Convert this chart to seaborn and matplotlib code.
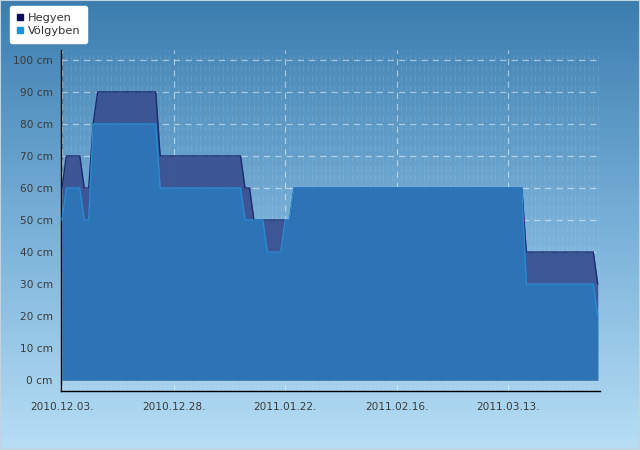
import numpy as np
import pandas as pd
import matplotlib
matplotlib.use("Agg")
import matplotlib.pyplot as plt
import matplotlib.dates as mdates
from matplotlib.lines import Line2D
from matplotlib.patches import Rectangle
import seaborn as sns

# napi hóvastagság (cm), 2010.12.03. - 2011.04.01.
start_date = "2010-12-03"
hegyen = [
    60, 70, 70, 70, 70, 60, 60, 80, 90, 90,
    90, 90, 90, 90, 90, 90, 90, 90, 90, 90,
    90, 90, 70, 70, 70, 70, 70, 70, 70, 70,
    70, 70, 70, 70, 70, 70, 70, 70, 70, 70,
    70, 60, 60, 50, 50, 50, 50, 50, 50, 50,
    50, 50, 60, 60, 60, 60, 60, 60, 60, 60,
    60, 60, 60, 60, 60, 60, 60, 60, 60, 60,
    60, 60, 60, 60, 60, 60, 60, 60, 60, 60,
    60, 60, 60, 60, 60, 60, 60, 60, 60, 60,
    60, 60, 60, 60, 60, 60, 60, 60, 60, 60,
    60, 60, 60, 60, 40, 40, 40, 40, 40, 40,
    40, 40, 40, 40, 40, 40, 40, 40, 40, 40,
    30,
]
volgyben = [
    50, 60, 60, 60, 60, 50, 50, 80, 80, 80,
    80, 80, 80, 80, 80, 80, 80, 80, 80, 80,
    80, 80, 60, 60, 60, 60, 60, 60, 60, 60,
    60, 60, 60, 60, 60, 60, 60, 60, 60, 60,
    60, 50, 50, 50, 50, 50, 40, 40, 40, 40,
    50, 50, 60, 60, 60, 60, 60, 60, 60, 60,
    60, 60, 60, 60, 60, 60, 60, 60, 60, 60,
    60, 60, 60, 60, 60, 60, 60, 60, 60, 60,
    60, 60, 60, 60, 60, 60, 60, 60, 60, 60,
    60, 60, 60, 60, 60, 60, 60, 60, 60, 60,
    60, 60, 60, 60, 30, 30, 30, 30, 30, 30,
    30, 30, 30, 30, 30, 30, 30, 30, 30, 30,
    20,
]
tick_dates = ["2010-12-03", "2010-12-28", "2011-01-22", "2011-02-16", "2011-03-13"]
y_ticks = [0, 10, 20, 30, 40, 50, 60, 70, 80, 90, 100]

df = pd.DataFrame({
    "datum": pd.date_range(start_date, periods=len(hegyen), freq="D"),
    "Hegyen": hegyen,
    "Völgyben": volgyben,
})

sns.set_style("white")
plt.rcParams["font.family"] = ["DejaVu Sans"]

fig = plt.figure(figsize=(6.4, 4.5), dpi=100)

# háttér színátmenet
bg = fig.add_axes([0, 0, 1, 1], zorder=-10)
grad = np.linspace(0, 1, 256).reshape(-1, 1)
cmap = matplotlib.colors.LinearSegmentedColormap.from_list("bg", ["#3b7daf", "#78b0d8", "#b7def5"])
bg.imshow(grad, aspect="auto", cmap=cmap, extent=[0, 1, 0, 1])
bg.set_axis_off()
fig.patches.append(Rectangle((0, 0), 1, 1, transform=fig.transFigure, fill=False,
                             edgecolor="#c5d3dd", linewidth=1.5))

ax = fig.add_axes([61 / 640, 1 - 391 / 450, 539 / 640, 341 / 450])
ax.patch.set_alpha(0)

ax.fill_between(df["datum"], df["Hegyen"], color="#3a5293", alpha=0.95, linewidth=0, zorder=2)
ax.fill_between(df["datum"], df["Völgyben"], color="#2c76b8", alpha=0.95, linewidth=0, zorder=3)
sns.lineplot(data=df, x="datum", y="Hegyen", ax=ax, color="#1a2a6e", linewidth=1, zorder=4)
sns.lineplot(data=df, x="datum", y="Völgyben", ax=ax, color="#2a8ad4", linewidth=1, zorder=5)

t0 = pd.Timestamp(start_date)
ax.set_xlim(t0 - pd.Timedelta(hours=5), t0 + pd.Timedelta(days=120, hours=12))
ax.set_ylim(-3.4, 103.1)

ax.set_xticks(pd.to_datetime(tick_dates))
ax.xaxis.set_major_formatter(mdates.DateFormatter("%Y.%m.%d."))
ax.xaxis.set_minor_locator(mdates.DayLocator())
ax.set_yticks(y_ticks)
ax.yaxis.set_major_formatter(matplotlib.ticker.FuncFormatter(lambda v, p: f"{v:.0f} cm"))

ax.grid(True, which="major", color="white", alpha=0.5, linestyle=(0, (5, 4)), linewidth=0.9)
ax.grid(True, which="minor", axis="x", color="white", alpha=0.09, linestyle=(0, (5, 3)), linewidth=0.9)
ax.set_axisbelow(True)

for s in ["top", "right"]:
    ax.spines[s].set_visible(False)
for s in ["left", "bottom"]:
    ax.spines[s].set_color("black")
    ax.spines[s].set_linewidth(1)

ax.tick_params(axis="both", which="major", labelsize=7.6, labelcolor="#3a3a3a", color="black")
ax.tick_params(axis="x", which="major", direction="inout", length=6, width=1, pad=5)
ax.tick_params(axis="x", which="minor", direction="out", length=2.5, width=0.6, color="#333333")
ax.tick_params(axis="y", which="major", direction="out", length=4, width=1, pad=2)
ax.set_xlabel("")
ax.set_ylabel("")

handles = [
    Line2D([], [], marker="s", linestyle="", markersize=5, color="#0d0d5e", label="Hegyen"),
    Line2D([], [], marker="s", linestyle="", markersize=5, color="#1c94dc", label="Völgyben"),
]
leg = fig.legend(handles=handles, loc="upper left", bbox_to_anchor=(10 / 640, 1 - 6 / 450),
                 frameon=True, fancybox=True, fontsize=8.2, handlelength=0.6,
                 handletextpad=0.35, labelspacing=0.3, borderpad=0.6, borderaxespad=0)
leg.get_frame().set_facecolor("white")
leg.get_frame().set_edgecolor("white")
leg.get_frame().set_alpha(1)
for t in leg.get_texts():
    t.set_color("#333333")

fig.savefig("out.png", dpi=100)
